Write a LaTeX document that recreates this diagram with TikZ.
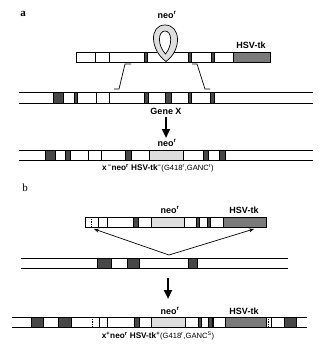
\documentclass[tikz,border=0pt]{standalone}
\usepackage{fontspec}
\setmainfont{Liberation Sans}
\newfontfamily\lserif{Liberation Serif}
\usetikzlibrary{arrows.meta}
\newcommand{\myr}{\textsuperscript{r}}
\begin{document}
\begin{tikzpicture}[x=1pt,y=-1pt,line width=0.7pt,
  dk/.style={fill=black!72},
  hs/.style={fill=black!52},
  ne/.style={fill=black!13},
  dotv/.style={densely dotted,line width=0.8pt},
  lab/.style={font=\bfseries\fontsize{9}{10}\selectfont,inner sep=0pt},
  geno/.style={font=\fontsize{7.6}{9}\selectfont,inner sep=0pt},
  tag/.style={font=\lserif\fontsize{11}{12}\selectfont,inner sep=0pt},
  bigarrow/.style={line width=2.6pt,-{Triangle[width=8pt,length=9pt]}},
  smallarrow/.style={line width=0.7pt,-{Stealth[length=5pt,width=4pt]}}]
\useasboundingbox (0,0) rectangle (325,351);

% ---------- panel a ----------
\node[tag,font=\lserif\bfseries\fontsize{11}{12}\selectfont] (ta) at (23,14) {a};

% loop (neo^r)
\node[lab] (neoa) at (167,15) {neo\myr};
\node[lab] (hsva) at (251,45) {HSV-tk};

% vector a
\fill[white] (76,52) rectangle (270,62);
\draw (76,52) -- (157,52);
\draw (174,52) -- (270,52);
\draw (76,62) -- (270,62);
\draw (76,52) -- (76,62);
\foreach \x in {95,109} \draw (\x,52) -- (\x,62);
\draw[dk] (144,52) rectangle (147,62);
\draw[dk] (188,52) rectangle (191,62);
\draw[dk] (211,52) rectangle (214,62);
\draw[hs] (233,52) rectangle (270,62);
\draw[ne] (166,61.5) .. controls (150,50) and (149,25) .. (165,25)
          .. controls (181,25) and (182,50) .. (166,61.5) -- cycle;
\draw[fill=white] (165.5,54) .. controls (157,45) and (158,31) .. (165,31)
          .. controls (172,31) and (173,45) .. (165.5,54) -- cycle;

% brackets
\draw (131,64) -- (125,64) -- (119,89) -- (114,89);
\draw (192,64) -- (197,64) -- (205,89) -- (210,89);

% genomic a
\draw (19,92) -- (313,92);
\draw (19,103) -- (313,103);
\foreach \x in {96,109} \draw (\x,92) -- (\x,103);
\draw[dk] (53,92) rectangle (63,103);
\draw[dk] (74,92) rectangle (77,103);
\draw[dk] (144,92) rectangle (148,103);
\draw[dk] (165,92) rectangle (171,103);
\draw[dk] (188,92) rectangle (191,103);
\draw[dk] (210,92) rectangle (214,103);
\node[lab] (genex) at (166,111) {Gene X};
\coordinate (a1) at (166,117);
\coordinate (a2) at (166,138);
\draw[bigarrow] (a1) -- (a2);

% result a
\node[lab] (neora) at (167,143) {neo\myr};
\draw (19,150) -- (313,150);
\draw (19,160) -- (313,160);
\foreach \x in {88,101} \draw (\x,150) -- (\x,160);
\draw[dk] (45,150) rectangle (55,160);
\draw[dk] (65,150) rectangle (70,160);
\draw[dk] (125,150) rectangle (131,160);
\draw[ne] (149,150) rectangle (183,160);
\draw[dk] (203,150) rectangle (208,160);
\draw[dk] (219,150) rectangle (225,160);
\node[geno] (ga) at (158,168) {\textbf{\fontsize{8.2}{9}\selectfont x\textsuperscript{\,\textminus}neo\myr\ HSV-tk\textsuperscript{\textminus}}(G418\myr,GANC\myr)};

% ---------- panel b ----------
\node[tag] (tb) at (25,188) {b};
\node[lab] (neob) at (170,210) {neo\myr};
\node[lab] (hsvb) at (244,210) {HSV-tk};

% vector b
\draw[fill=white] (85,217) rectangle (266,227);
\draw[dotv] (91,217) -- (91,227);
\foreach \x in {98,107} \draw (\x,217) -- (\x,227);
\draw[dk] (133,217) rectangle (138,227);
\draw[ne] (151,217) rectangle (184,227);
\draw[dk] (196,217) rectangle (199,227);
\draw[dk] (207,217) rectangle (210,227);
\draw[hs] (223,217) rectangle (266,227);

% crossing arrows
\coordinate (cv) at (169,255);
\coordinate (vl) at (94,229);
\coordinate (vr) at (254,229);
\draw[smallarrow] (cv) -- (vl);
\draw[smallarrow] (cv) -- (vr);

% genomic b
\draw (21,258) -- (288,258);
\draw (21,268) -- (288,268);
\draw[dk] (97,258) rectangle (111,268);
\draw[dk] (127,258) rectangle (139,268);
\draw[dk] (188,258) rectangle (197,268);

\coordinate (b1) at (168,278);
\coordinate (b2) at (168,299);
\draw[bigarrow] (b1) -- (b2);

% result b
\node[lab] (neorb) at (170,311) {neo\myr};
\node[lab] (hsvrb) at (244,311) {HSV-tk};
\draw (12,317) -- (307,317);
\draw (12,327) -- (307,327);
\draw[dk] (31,317) rectangle (43,327);
\draw[dk] (58,317) rectangle (71,327);
\draw[dotv] (92,317) -- (92,327);
\foreach \x in {99,107,213,271} \draw (\x,317) -- (\x,327);
\draw[dk] (134,317) rectangle (139,327);
\draw[ne] (151,317) rectangle (185,327);
\draw[dk] (198,317) rectangle (201,327);
\draw[dk] (208,317) rectangle (212,327);
\draw[hs] (225,317) rectangle (266,327);
\draw[dotv] (268,317) -- (268,327);
\draw[dk] (284,317) rectangle (296,327);
\node[geno] (gb) at (158,336) {\textbf{\fontsize{8.2}{9}\selectfont x\textsuperscript{+}neo\myr\ HSV-tk\textsuperscript{+}}(G418\myr,GANC\textsuperscript{S})};
\end{tikzpicture}
\end{document}
